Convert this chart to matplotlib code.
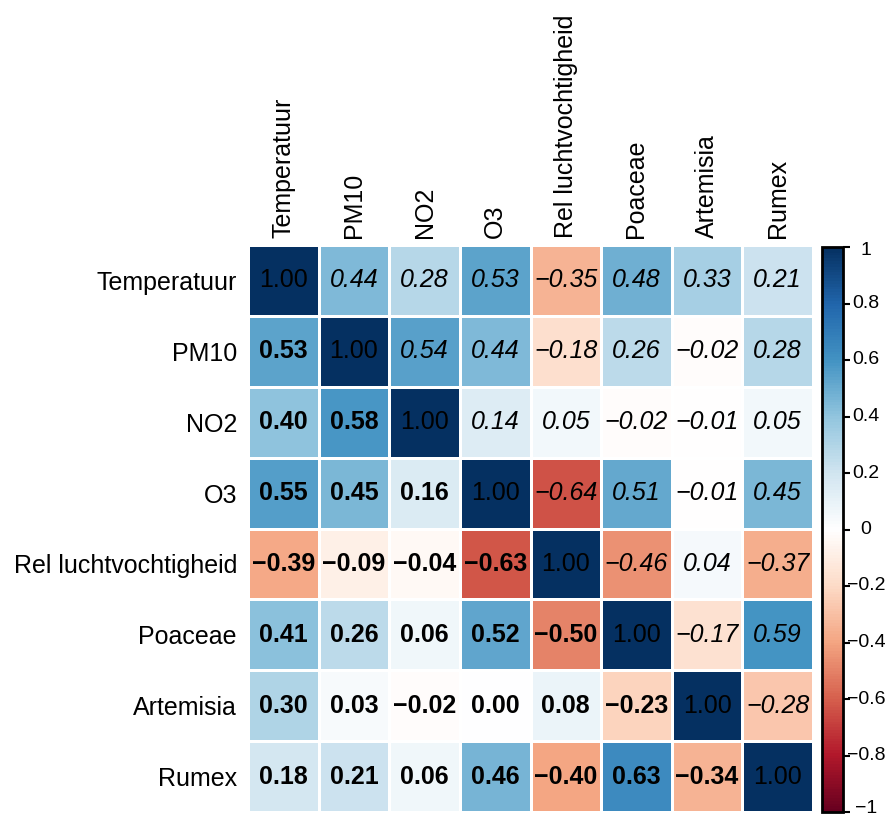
import numpy as np
import matplotlib.pyplot as plt
from matplotlib.colors import LinearSegmentedColormap

plt.rcParams['font.family'] = ['Liberation Sans', 'DejaVu Sans']

labels = ["Temperatuur", "PM10", "NO2", "O3", "Rel luchtvochtigheid",
          "Poaceae", "Artemisia", "Rumex"]

row_temp = [1.00, 0.44, 0.28, 0.53, -0.35, 0.48, 0.33, 0.21]
row_pm10 = [0.53, 1.00, 0.54, 0.44, -0.18, 0.26, -0.02, 0.28]
row_no2 = [0.40, 0.58, 1.00, 0.14, 0.05, -0.02, -0.01, 0.05]
row_o3 = [0.55, 0.45, 0.16, 1.00, -0.64, 0.51, -0.01, 0.45]
row_rel = [-0.39, -0.09, -0.04, -0.63, 1.00, -0.46, 0.04, -0.37]
row_poa = [0.41, 0.26, 0.06, 0.52, -0.50, 1.00, -0.17, 0.59]
row_art = [0.30, 0.03, -0.02, 0.00, 0.08, -0.23, 1.00, -0.28]
row_rum = [0.18, 0.21, 0.06, 0.46, -0.40, 0.63, -0.34, 1.00]

cbar_ticks = [-1, -0.8, -0.6, -0.4, -0.2, 0, 0.2, 0.4, 0.6, 0.8, 1]

corr = np.array([row_temp, row_pm10, row_no2, row_o3,
                 row_rel, row_poa, row_art, row_rum])

# corrplot RdBu palette
cmap = LinearSegmentedColormap.from_list("rdbu", [
    "#67001F", "#B2182B", "#D6604D", "#F4A582", "#FDDBC7", "#FFFFFF",
    "#D1E5F0", "#92C5DE", "#4393C3", "#2166AC", "#053061"], N=200)


def fmt(v):
    return f"{v:.2f}".replace("-", "\u2212")


fig = plt.figure(figsize=(8.88, 8.16), dpi=100)
ax = fig.add_axes([248 / 888, 4 / 816, 565 / 888, 567 / 816])

n = len(labels)
mesh = ax.pcolormesh(np.arange(n + 1), np.arange(n + 1), corr, cmap=cmap,
                     vmin=-1, vmax=1, edgecolors="white", linewidth=0.8)
ax.set_xlim(0, n)
ax.set_ylim(n, 0)

for i in range(n):
    for j in range(n):
        if i > j:
            kw = dict(fontweight="bold")
        elif i < j:
            kw = dict(fontstyle="italic")
        else:
            kw = {}
        ax.text(j + 0.5, i + 0.5, fmt(corr[i, j]), ha="center", va="center",
                fontsize=18, color="black", **kw)

ax.set_xticks(np.arange(n) + 0.5)
ax.set_yticks(np.arange(n) + 0.5)
ax.set_xticklabels(labels, rotation=90, fontsize=18)
ax.set_yticklabels(labels, fontsize=18)
ax.xaxis.tick_top()
ax.tick_params(axis="both", length=0)
ax.tick_params(axis="x", pad=5)
ax.tick_params(axis="y", pad=8)
for s in ax.spines.values():
    s.set_visible(False)

# colorbar with centred labels to the right
cax = fig.add_axes([822 / 888, 4 / 816, 21 / 888, 565 / 816])
cb = fig.colorbar(mesh, cax=cax, ticks=cbar_ticks)
cb.outline.set_linewidth(2)
cb.ax.tick_params(length=5, width=1.5, labelright=False)
for t in cbar_ticks:
    # end labels sit a little inside the bar, as in corrplot
    y = t - 0.012 * np.sign(t) if abs(t) == 1 else t
    cax.text(1 + 23 / 21, y, f"{t:g}".replace("-", "\u2212"),
             transform=cax.get_yaxis_transform(), ha="center", va="center",
             fontsize=14)

fig.savefig("out.png", dpi=100)
